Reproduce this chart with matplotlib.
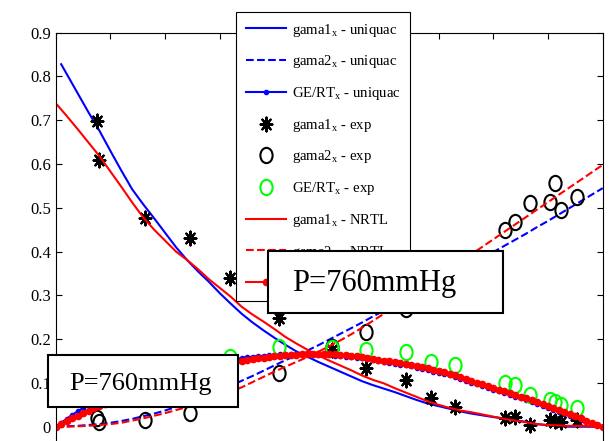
import numpy as np
import matplotlib
matplotlib.use('Agg')
import matplotlib.pyplot as plt
from matplotlib.path import Path
from matplotlib.transforms import Affine2D
from matplotlib.patches import Rectangle

plt.rcParams['font.family'] = ['Liberation Serif', 'DejaVu Serif']
plt.rcParams['mathtext.fontset'] = 'custom'
plt.rcParams['mathtext.rm'] = 'Liberation Serif'
plt.rcParams['mathtext.it'] = 'Liberation Serif:italic'

# ===== データ =====
x_model = np.linspace(0, 1, 51)
x_ge = np.linspace(0, 1, 101)
x_gama1_uniquac = np.r_[0.01, x_model[1:]]

gama1_uniquac = [0.828, 0.806, 0.762, 0.718, 0.676, 0.630, 0.585, 0.542, 0.508, 0.476,
                 0.443, 0.410, 0.381, 0.355, 0.331, 0.305, 0.281, 0.258, 0.238, 0.220,
                 0.203, 0.187, 0.172, 0.160, 0.148, 0.137, 0.126, 0.115, 0.104, 0.095,
                 0.087, 0.079, 0.070, 0.061, 0.053, 0.047, 0.041, 0.035, 0.030, 0.026,
                 0.022, 0.019, 0.015, 0.011, 0.006, 0.003, 0.001, 0.000, 0.000, 0.000, 0.000]
gama2_uniquac = [0.000, 0.001, 0.002, 0.004, 0.006, 0.009, 0.013, 0.018, 0.024, 0.030,
                 0.037, 0.045, 0.053, 0.062, 0.072, 0.082, 0.093, 0.105, 0.116, 0.128,
                 0.140, 0.152, 0.163, 0.174, 0.186, 0.199, 0.212, 0.225, 0.238, 0.252,
                 0.265, 0.279, 0.292, 0.305, 0.319, 0.332, 0.345, 0.359, 0.372, 0.386,
                 0.399, 0.413, 0.427, 0.441, 0.456, 0.470, 0.485, 0.500, 0.515, 0.530, 0.545]
ge_uniquac = [0.000, 0.009, 0.018, 0.027, 0.035, 0.043, 0.050, 0.057, 0.063, 0.069,
              0.075, 0.081, 0.086, 0.091, 0.096, 0.101, 0.105, 0.109, 0.113, 0.117,
              0.120, 0.124, 0.127, 0.130, 0.133, 0.136, 0.139, 0.142, 0.144, 0.147,
              0.149, 0.151, 0.153, 0.155, 0.157, 0.159, 0.160, 0.161, 0.162, 0.163,
              0.164, 0.165, 0.165, 0.165, 0.165, 0.165, 0.165, 0.165, 0.164, 0.164,
              0.163, 0.162, 0.161, 0.160, 0.159, 0.158, 0.156, 0.154, 0.152, 0.150,
              0.148, 0.146, 0.144, 0.142, 0.140, 0.138, 0.135, 0.132, 0.129, 0.126,
              0.123, 0.120, 0.117, 0.113, 0.109, 0.105, 0.101, 0.097, 0.093, 0.089,
              0.085, 0.081, 0.077, 0.073, 0.069, 0.065, 0.061, 0.057, 0.052, 0.048,
              0.043, 0.039, 0.034, 0.030, 0.025, 0.021, 0.016, 0.012, 0.007, 0.003, 0.000]

gama1_nrtl = [0.739, 0.710, 0.680, 0.649, 0.618, 0.583, 0.548, 0.512, 0.478, 0.450,
              0.425, 0.400, 0.381, 0.360, 0.337, 0.317, 0.297, 0.274, 0.256, 0.240,
              0.223, 0.205, 0.190, 0.176, 0.163, 0.151, 0.140, 0.129, 0.117, 0.107,
              0.099, 0.088, 0.078, 0.068, 0.058, 0.050, 0.043, 0.037, 0.033, 0.028,
              0.023, 0.018, 0.014, 0.010, 0.006, 0.004, 0.003, 0.002, 0.002, 0.001, 0.000]
gama2_nrtl = [0.000, 0.000, 0.001, 0.002, 0.004, 0.006, 0.009, 0.014, 0.019, 0.025,
              0.031, 0.038, 0.045, 0.053, 0.061, 0.070, 0.080, 0.090, 0.102, 0.114,
              0.126, 0.137, 0.148, 0.159, 0.171, 0.184, 0.197, 0.211, 0.226, 0.242,
              0.258, 0.275, 0.292, 0.309, 0.326, 0.343, 0.360, 0.377, 0.394, 0.411,
              0.428, 0.445, 0.462, 0.479, 0.496, 0.513, 0.530, 0.547, 0.564, 0.581, 0.598]
ge_nrtl = [0.000, 0.007, 0.013, 0.019, 0.025, 0.031, 0.037, 0.043, 0.048, 0.053,
           0.058, 0.063, 0.068, 0.073, 0.078, 0.083, 0.087, 0.092, 0.096, 0.100,
           0.104, 0.108, 0.112, 0.116, 0.120, 0.124, 0.127, 0.131, 0.134, 0.137,
           0.140, 0.143, 0.146, 0.149, 0.151, 0.153, 0.155, 0.157, 0.158, 0.160,
           0.161, 0.162, 0.163, 0.164, 0.164, 0.165, 0.165, 0.165, 0.165, 0.165,
           0.165, 0.165, 0.164, 0.163, 0.162, 0.161, 0.159, 0.157, 0.155, 0.153,
           0.151, 0.150, 0.148, 0.146, 0.144, 0.142, 0.139, 0.136, 0.133, 0.130,
           0.127, 0.124, 0.121, 0.117, 0.113, 0.109, 0.105, 0.101, 0.097, 0.093,
           0.089, 0.085, 0.081, 0.077, 0.073, 0.069, 0.065, 0.061, 0.056, 0.052,
           0.047, 0.043, 0.038, 0.033, 0.028, 0.024, 0.019, 0.014, 0.009, 0.005, 0.000]

# 実験値
x_exp = [0.075, 0.080, 0.163, 0.246, 0.318, 0.408, 0.505, 0.567, 0.640,
         0.686, 0.730, 0.822, 0.840, 0.868, 0.904, 0.913, 0.924, 0.953]
gama1_exp = [0.698, 0.609, 0.476, 0.432, 0.339, 0.248, 0.175, 0.135, 0.106,
             0.065, 0.045, 0.020, 0.022, 0.004, 0.015, 0.013, 0.011, 0.015]
gama2_exp = [0.020, 0.011, 0.015, 0.031, 0.075, 0.122, 0.182, 0.216, 0.270,
             0.300, 0.340, 0.449, 0.468, 0.510, 0.513, 0.556, 0.494, 0.525]
ge_exp = [0.060, 0.060, 0.090, 0.130, 0.159, 0.182, 0.180, 0.175, 0.170,
          0.147, 0.140, 0.100, 0.095, 0.072, 0.061, 0.056, 0.050, 0.043]

yticks = [0, 0.1, 0.2, 0.3, 0.4, 0.5, 0.6, 0.7, 0.8, 0.9]
xticks = [0, 0.1, 0.2, 0.3, 0.4, 0.5, 0.6, 0.7, 0.8, 0.9, 1.0]

# 縦長の円・アスタリスク（元画像の横方向圧縮に合わせる）
ell = Path.unit_circle().transformed(Affine2D().scale(0.8, 1.0))
ast = Path.unit_regular_asterisk(8).transformed(Affine2D().scale(0.85, 1.0))

# ===== 描画 =====
W, H = 610, 441
fig = plt.figure(figsize=(W / 100, H / 100), dpi=100)
ax = fig.add_axes([55.7 / W, 1 - 470.5 / H, 547 / W, 437.8 / H])

ax.plot(x_gama1_uniquac, gama1_uniquac, '-', color='b', lw=1.5, label='gama1$_\\mathrm{x}$ - uniquac')
ax.plot(x_model, gama2_uniquac, '--', color='b', lw=1.5, label='gama2$_\\mathrm{x}$ - uniquac')
ax.plot(x_ge, ge_uniquac, '.-', color='b', lw=1.5, ms=6, label='GE/RT$_\\mathrm{x}$ - uniquac')
ax.plot(x_exp, gama1_exp, ls='none', marker=ast, color='k', ms=10, mew=1.5,
        label='gama1$_\\mathrm{x}$ - exp')
ax.plot(x_exp, gama2_exp, ls='none', marker=ell, mfc='none', mec='k', ms=11, mew=1.5,
        label='gama2$_\\mathrm{x}$ - exp')
ax.plot(x_exp, ge_exp, ls='none', marker=ell, mfc='none', mec=(0, 1, 0), ms=11, mew=1.5,
        label='GE/RT$_\\mathrm{x}$ - exp')
ax.plot(x_model, gama1_nrtl, '-', color='r', lw=1.5, label='gama1$_\\mathrm{x}$ - NRTL')
ax.plot(x_model, gama2_nrtl, '--', color='r', lw=1.5, label='gama2$_\\mathrm{x}$ - NRTL')
ax.plot(x_ge, ge_nrtl, '.-', color='r', lw=1.5, ms=9, label='GE/RT$_\\mathrm{x}$ - NRTL')

ax.set_xlim(0, 1)
ax.set_ylim(-0.1, 0.9)
ax.set_xticks(xticks)
ax.set_yticks(yticks)
ax.yaxis.set_major_formatter(plt.FuncFormatter(lambda v, p: f'{v:g}'))
ax.tick_params(direction='in', length=4.5, width=0.8, top=True, right=True,
               labelbottom=False, labelsize=12)
for s in ax.spines.values():
    s.set_linewidth(0.8)

leg = fig.legend(loc='upper left', bbox_to_anchor=(236 / W, 1 - 12 / H),
                 borderaxespad=0, fontsize=10.6, numpoints=1, fancybox=False,
                 edgecolor='k', framealpha=1, handlelength=2.75, handletextpad=0.4,
                 labelspacing=1.0, borderpad=0.65)
leg.get_frame().set_linewidth(0.8)
leg.set_zorder(5)

# 圧力ラベルの枠（凡例の上に重なる）
for (x0, y0, x1, y1, tx, ty, fs) in [(48, 355, 238, 407, 140, 390, 19),
                                     (268, 251, 503, 313, 374, 291, 22)]:
    fig.patches.append(Rectangle((x0 / W, 1 - y1 / H), (x1 - x0) / W, (y1 - y0) / H,
                                 transform=fig.transFigure, facecolor='white',
                                 edgecolor='k', lw=1.5, zorder=10))
    fig.text(tx / W, 1 - ty / H, 'P=760mmHg', ha='center', va='baseline',
             fontsize=fs, zorder=11)

plt.savefig('out.png', dpi=100)
